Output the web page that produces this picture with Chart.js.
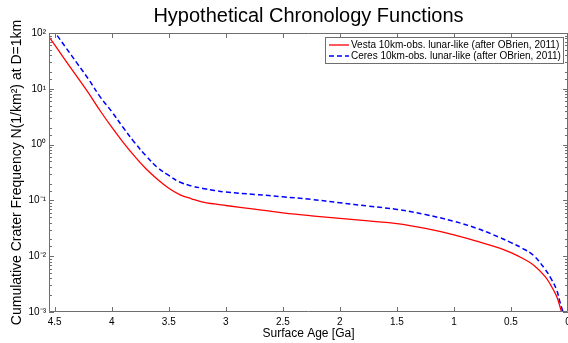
<!DOCTYPE html>
<html lang="en">
<head>
<meta charset="UTF-8">
<title>Hypothetical Chronology Functions</title>
<script src="https://cdn.jsdelivr.net/npm/chart.js@4.4.1/dist/chart.umd.min.js"></script>
<style>
  html, body { margin: 0; padding: 0; background: #fff; }
  #chart { display: block; }
</style>
</head>
<body>
<canvas id="chart" width="568" height="343"></canvas>
<script>
// surface age in Ga
const ages = [4.56, 4.5, 4.4, 4.3, 4.2, 4.1, 4.0, 3.9, 3.8, 3.7, 3.6, 3.5, 3.4, 3.3, 3.2, 3.1, 3.0,
  2.75, 2.5, 2.25, 2.0, 1.75, 1.5, 1.25, 1.0, 0.8, 0.6, 0.5, 0.4, 0.3, 0.2, 0.15, 0.1, 0.07, 0.05, 0.03, 0.02];
// N(1) per km^2
const vesta = [91, 61, 31, 16, 8.2, 4.0, 2.05, 1.1, 0.62, 0.37, 0.24, 0.165, 0.126, 0.107, 0.093, 0.0863, 0.081,
  0.070, 0.060, 0.053, 0.0477, 0.0428, 0.0385, 0.0315, 0.0242, 0.0186, 0.0140, 0.0116, 0.0092, 0.0069, 0.0043, 0.0030, 0.00192, 0.00124, 0.00088, 0.0005, 0.0003];
const ceres = [154, 104, 54, 28, 14.5, 7.1, 3.9, 2.03, 1.09, 0.63, 0.39, 0.28, 0.211, 0.182, 0.164, 0.151, 0.141,
  0.128, 0.116, 0.104, 0.0908, 0.079, 0.0689, 0.0557, 0.0422, 0.0316, 0.0217, 0.0175, 0.0139, 0.0102, 0.0058, 0.0040, 0.0025, 0.0015, 0.0011, 0.0008, 0.0006];

const ageTicks = [4.5, 4, 3.5, 3, 2.5, 2, 1.5, 1, 0.5, 0];
const decadeLabels = { '-3': '10⁻³', '-2': '10⁻²', '-1': '10⁻¹', '0': '10⁰', '1': '10¹', '2': '10²' };

Chart.defaults.font.family = "'Liberation Sans', Arial, sans-serif";
Chart.defaults.color = '#000';

function decadeOf(v) {
  const e = Math.log10(v);
  return Math.abs(e - Math.round(e)) < 1e-6 ? Math.round(e) : null;
}

// matlab style box with inward ticks
const frame = {
  id: 'frame',
  afterDatasetsDraw(chart) {
    const { ctx, chartArea: a, scales: { x, y } } = chart;
    ctx.save();
    ctx.strokeStyle = '#6e6e6e';
    ctx.lineWidth = 1;
    ctx.beginPath();
    ctx.rect(a.left + 0.5, a.top + 0.5, a.right - a.left - 1, a.bottom - a.top - 1);
    x.ticks.forEach(t => {
      const px = Math.round(x.getPixelForValue(t.value)) + 0.5;
      ctx.moveTo(px, a.bottom); ctx.lineTo(px, a.bottom - 5);
      ctx.moveTo(px, a.top); ctx.lineTo(px, a.top + 5);
    });
    y.ticks.forEach(t => {
      const py = Math.round(y.getPixelForValue(t.value)) + 0.5;
      const len = decadeOf(t.value) !== null ? 5 : 3;
      ctx.moveTo(a.left, py); ctx.lineTo(a.left + len, py);
      ctx.moveTo(a.right, py); ctx.lineTo(a.right - len, py);
    });
    ctx.stroke();
    ctx.restore();
  }
};

// boxed legend in the upper right corner
const boxLegend = {
  id: 'boxLegend',
  afterDraw(chart) {
    const ctx = chart.ctx;
    const left = 325, top = 37, width = 238, height = 26;
    ctx.save();
    ctx.fillStyle = '#fff';
    ctx.fillRect(left, top, width, height);
    ctx.strokeStyle = '#6e6e6e';
    ctx.lineWidth = 1;
    ctx.strokeRect(left + 0.5, top + 0.5, width, height);
    ctx.font = "10px 'Liberation Sans', Arial, sans-serif";
    ctx.textBaseline = 'middle';
    chart.data.datasets.forEach((ds, i) => {
      const cy = top + 8 + i * 11;
      ctx.strokeStyle = ds.borderColor;
      ctx.lineWidth = ds.borderWidth;
      ctx.setLineDash(ds.borderDash || []);
      ctx.beginPath();
      ctx.moveTo(left + 4, cy); ctx.lineTo(left + 24, cy);
      ctx.stroke();
      ctx.setLineDash([]);
      ctx.fillStyle = '#000';
      ctx.fillText(ds.label, left + 26, cy);
    });
    ctx.restore();
  }
};

new Chart(document.getElementById('chart'), {
  type: 'line',
  data: {
    datasets: [{
      label: 'Vesta 10km-obs. lunar-like (after OBrien, 2011)',
      data: ages.map((t, i) => ({ x: t, y: vesta[i] })),
      borderColor: '#ff0000',
      borderWidth: 1.3,
      pointRadius: 0,
      tension: 0.4,
      clip: 0
    }, {
      label: 'Ceres 10km-obs. lunar-like (after OBrien, 2011)',
      data: ages.map((t, i) => ({ x: t, y: ceres[i] })),
      borderColor: '#0000ff',
      borderWidth: 1.5,
      borderDash: [5, 3],
      pointRadius: 0,
      tension: 0.4,
      clip: 0
    }]
  },
  options: {
    responsive: false,
    animation: false,
    devicePixelRatio: 1,
    layout: { padding: { left: 0, right: -1, top: 0, bottom: 0 } },
    plugins: {
      legend: { display: false },
      tooltip: { enabled: false },
      title: {
        display: true,
        text: 'Hypothetical Chronology Functions',
        fullSize: false,
        font: { size: 20, weight: 'normal' },
        color: '#000',
        padding: { top: 4, bottom: 5 }
      }
    },
    scales: {
      x: {
        type: 'linear',
        reverse: true,
        min: 0,
        max: 4.55,
        grid: { display: false, drawTicks: false },
        border: { display: false },
        afterBuildTicks: s => { s.ticks = ageTicks.map(v => ({ value: v })); },
        afterFit: s => { s.height = 31; s.paddingLeft = 0; s.paddingRight = 0; },
        ticks: { font: { size: 10 }, padding: 4, maxRotation: 0, autoSkip: false, callback: v => String(v) },
        title: { display: true, text: 'Surface Age [Ga]', font: { size: 12 }, padding: { top: 0, bottom: 2 } }
      },
      y: {
        type: 'logarithmic',
        min: 1e-3,
        max: 1e2,
        grid: { display: false, drawTicks: false },
        border: { display: false },
        afterFit: s => { s.width = 49; },
        ticks: {
          font: { size: 10 }, padding: 3, autoSkip: false,
          callback: v => { const d = decadeOf(v); return d === null ? '' : decadeLabels[d]; }
        },
        title: { display: true, text: 'Cumulative Crater Frequency N(1/km²) at D=1km', font: { size: 14 }, padding: { top: 9, bottom: 0 } }
      }
    }
  },
  plugins: [frame, boxLegend]
});
</script>
</body>
</html>
